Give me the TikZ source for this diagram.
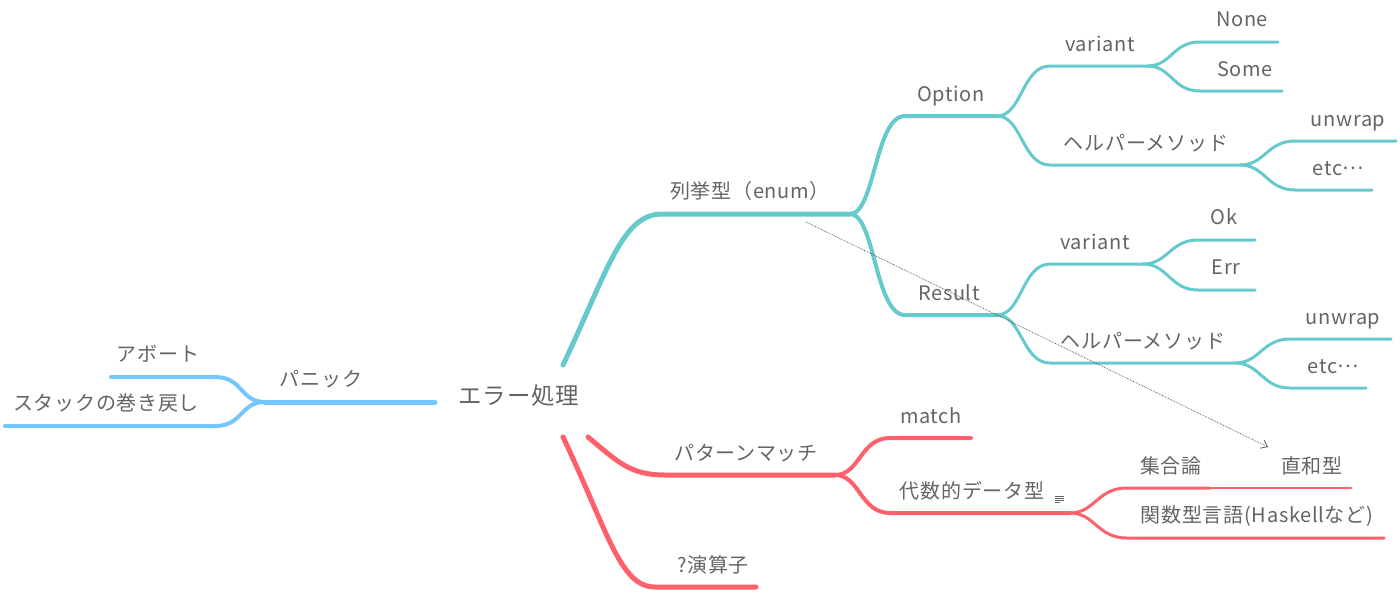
\documentclass[tikz,border=0pt]{standalone}
\usepackage{fontspec}
\setmainfont{Noto Sans CJK JP}[LetterSpace=3.5]
\usetikzlibrary{arrows.meta}
\definecolor{tealc}{RGB}{102,201,204}
\definecolor{redc}{RGB}{255,97,108}
\definecolor{bluec}{RGB}{115,199,255}
\definecolor{txtc}{RGB}{100,100,100}
\newcommand{\midell}{\raisebox{5.5pt}{…}}
\tikzset{
  lbl/.style={text=txtc,font=\fontsize{20}{22}\selectfont,anchor=base,inner sep=0pt},
  rootlbl/.style={text=txtc,font=\fontsize{23.5}{25}\selectfont,anchor=base,inner sep=0pt},
  lvA/.style={line width=5pt,line cap=round},
  lvB/.style={line width=4pt,line cap=round},
  lvC/.style={line width=3pt,line cap=round},
  tb/.style={draw=tealc},
  rb/.style={draw=redc},
  bb/.style={draw=bluec},
}
\begin{document}
\begin{tikzpicture}[x=1pt,y=-1pt]
\useasboundingbox (0,0) rectangle (1400,592);
% ---------- coordinates ----------
\coordinate (rT) at (563,365);
\coordinate (rR1) at (588,437);
\coordinate (rR2) at (563,437);
\coordinate (rB) at (435,402);
% teal
\coordinate (enumS) at (662,214); \coordinate (enumE) at (850,214);
\coordinate (optS) at (905,116);  \coordinate (optE) at (997,116);
\coordinate (resS) at (905,315);  \coordinate (resE) at (997,315);
\coordinate (ovS) at (1050,66);   \coordinate (ovE) at (1147,66);
\coordinate (ohS) at (1050,165);  \coordinate (ohE) at (1240,165);
\coordinate (noneS) at (1200,42); \coordinate (noneE) at (1278,42);
\coordinate (someS) at (1200,91); \coordinate (someE) at (1282,91);
\coordinate (ouS) at (1295,141);  \coordinate (ouE) at (1396,141);
\coordinate (oeS) at (1295,190);  \coordinate (oeE) at (1372,190);
\coordinate (rvS) at (1050,264);  \coordinate (rvE) at (1143,264);
\coordinate (okS) at (1198,240);  \coordinate (okE) at (1255,240);
\coordinate (errS) at (1198,290); \coordinate (errE) at (1255,290);
\coordinate (rhS) at (1050,363);  \coordinate (rhE) at (1235,363);
\coordinate (ruS) at (1290,339);  \coordinate (ruE) at (1391,339);
\coordinate (reS) at (1290,388);  \coordinate (reE) at (1366,388);
% red
\coordinate (pmS) at (665,475);   \coordinate (pmE) at (835,475);
\coordinate (mS) at (890,438);    \coordinate (mE) at (971,438);
\coordinate (adS) at (890,513);   \coordinate (adE) at (1070,513);
\coordinate (stS) at (1127,488);  \coordinate (stE) at (1210,488);
\coordinate (dwE) at (1351,488);
\coordinate (fnS) at (1127,538);  \coordinate (fnE) at (1384,538);
\coordinate (qS) at (655,587);    \coordinate (qE) at (756,587);
% blue
\coordinate (pnE) at (265,402);
\coordinate (abS) at (215,377);   \coordinate (abE) at (111,377);
\coordinate (skS) at (215,426);   \coordinate (skE) at (5,426);
% arrow ends
\coordinate (arS) at (806,222);
\coordinate (arE) at (1268,447);

% ---------- connectors ----------
% teal
\draw[tb,lvA] (rT) .. controls +(45,-95) and +(-40,0) .. (enumS) -- (enumE);
\draw[tb,lvB] (enumE) .. controls +(25,0) and +(-30,0) .. (optS) -- (optE);
\draw[tb,lvB] (enumE) .. controls +(25,0) and +(-30,0) .. (resS) -- (resE);
\draw[tb,lvC] (optE) .. controls +(25,0) and +(-28,0) .. (ovS) -- (ovE);
\draw[tb,lvC] (optE) .. controls +(25,0) and +(-28,0) .. (ohS) -- (ohE);
\draw[tb,lvC] (ovE) .. controls +(25,0) and +(-28,0) .. (noneS) -- (noneE);
\draw[tb,lvC] (ovE) .. controls +(25,0) and +(-28,0) .. (someS) -- (someE);
\draw[tb,lvC] (ohE) .. controls +(25,0) and +(-28,0) .. (ouS) -- (ouE);
\draw[tb,lvC] (ohE) .. controls +(25,0) and +(-28,0) .. (oeS) -- (oeE);
\draw[tb,lvC] (resE) .. controls +(25,0) and +(-28,0) .. (rvS) -- (rvE);
\draw[tb,lvC] (resE) .. controls +(25,0) and +(-28,0) .. (rhS) -- (rhE);
\draw[tb,lvC] (rvE) .. controls +(25,0) and +(-28,0) .. (okS) -- (okE);
\draw[tb,lvC] (rvE) .. controls +(25,0) and +(-28,0) .. (errS) -- (errE);
\draw[tb,lvC] (rhE) .. controls +(25,0) and +(-28,0) .. (ruS) -- (ruE);
\draw[tb,lvC] (rhE) .. controls +(25,0) and +(-28,0) .. (reS) -- (reE);
% red
\draw[rb,lvA] (rR1) .. controls +(30,25) and +(-35,0) .. (pmS) -- (pmE);
\draw[rb,lvA] (rR2) .. controls +(45,95) and +(-35,0) .. (qS) -- (qE);
\draw[rb,lvB] (pmE) .. controls +(25,0) and +(-30,0) .. (mS) -- (mE);
\draw[rb,lvB] (pmE) .. controls +(25,0) and +(-30,0) .. (adS) -- (adE);
\draw[rb,lvC] (adE) .. controls +(25,0) and +(-30,0) .. (stS) -- (stE);
\draw[rb,lvC] (adE) .. controls +(25,0) and +(-30,0) .. (fnS) -- (fnE);
\draw[rb,line width=2.5pt,line cap=round] (stE) -- (dwE);
% blue
\draw[bb,lvA] (rB) -- (pnE);
\draw[bb,lvB] (pnE) .. controls +(-25,0) and +(28,0) .. (abS) -- (abE);
\draw[bb,lvB] (pnE) .. controls +(-25,0) and +(28,0) .. (skS) -- (skE);
% dotted relation arrow
\draw[densely dotted,line width=0.7pt,draw=black!70,-{Straight Barb[length=6pt,width=9pt,line width=0.7pt]}] (arS) -- (arE);
% note icon
\foreach \yy/\xe in {496/1064,498/1064,500/1064,502/1060}
  \draw[txtc,line width=0.7pt] (1055,\yy) -- (\xe,\yy);

% ---------- labels ----------
\node[rootlbl] (root) at (519,404) {エラー処理};
\node[lbl] (nPanic) at (321,386) {パニック};
\node[lbl] (nAbort) at (158,361) {アボート};
\node[lbl] (nStack) at (106,410) {スタックの巻き戻し};
\node[lbl] (nEnum) at (750,198) {列挙型（enum）};
\node[lbl] (nOpt) at (951,101) {Option};
\node[lbl] (nRes) at (949,300) {Result};
\node[lbl] (nOv) at (1100,51) {variant};
\node[lbl] (nOh) at (1146,150) {ヘルパーメソッド};
\node[lbl] (nNone) at (1242,26) {None};
\node[lbl] (nSome) at (1245,76) {Some};
\node[lbl] (nOu) at (1348,126) {unwrap};
\node[lbl] (nOe) at (1338,175) {etc\midell};
\node[lbl] (nRv) at (1095,249) {variant};
\node[lbl] (nRh) at (1143,348) {ヘルパーメソッド};
\node[lbl] (nOk) at (1224,224) {Ok};
\node[lbl] (nErr) at (1226,274) {Err};
\node[lbl] (nRu) at (1343,324) {unwrap};
\node[lbl] (nRe) at (1333,373) {etc\midell};
\node[lbl] (nPm) at (746,460) {パターンマッチ};
\node[lbl] (nM) at (931,423) {match};
\node[lbl] (nAd) at (972,498) {代数的データ型};
\node[lbl] (nSt) at (1171,473) {集合論};
\node[lbl] (nDw) at (1312,473) {直和型};
\node[lbl] (nFn) at (1257,522) {関数型言語(Haskellなど)};
\node[lbl] (nQ) at (713,572) {?演算子};
\end{tikzpicture}
\end{document}
